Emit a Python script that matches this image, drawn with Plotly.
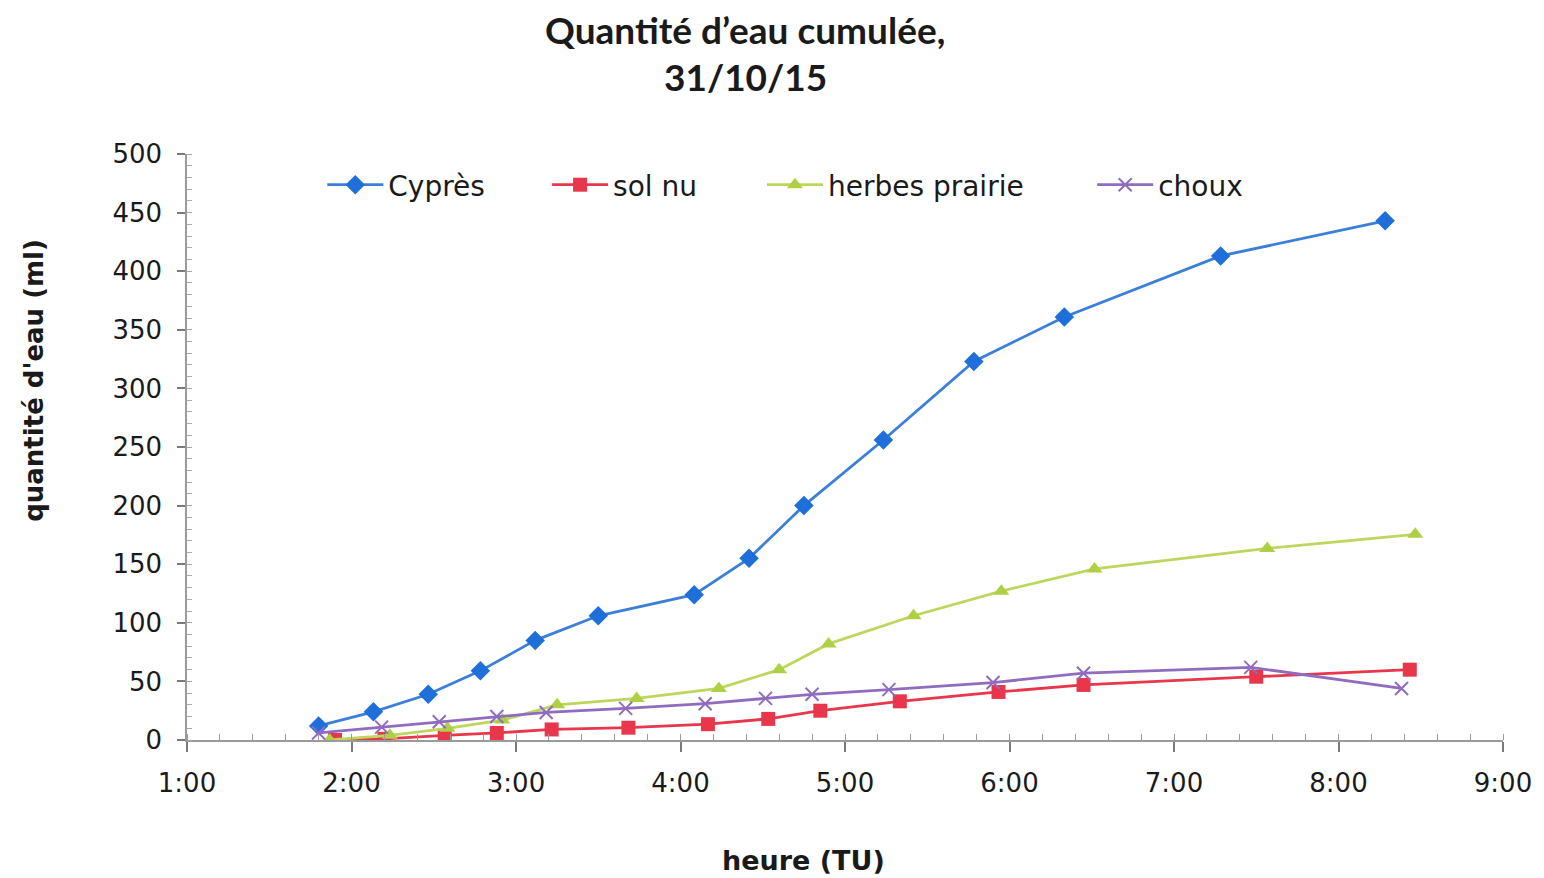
import plotly.graph_objects as go

# ---- data ----
cypres_t = ["1:48", "2:08", "2:28", "2:47", "3:07", "3:30", "4:05", "4:25", "4:45", "5:14", "5:47", "6:20", "7:17", "8:17"]
cypres_v = [12, 24, 39, 59, 85, 106, 124, 155, 200, 256, 323, 361, 413, 443]

solnu_t = ["1:54", "2:12", "2:34", "2:53", "3:13", "3:41", "4:10", "4:32", "4:51", "5:20", "5:56", "6:27", "7:30", "8:26"]
solnu_v = [0, 1, 4, 6, 9, 10.5, 13.5, 18, 25, 33, 41, 47, 54, 60]

herbes_t = ["1:52", "2:14", "2:35", "2:55", "3:15", "3:44", "4:14", "4:36", "4:54", "5:25", "5:57", "6:31", "7:34", "8:28"]
herbes_v = [0, 4, 10, 17, 30, 35.5, 44, 60, 82, 106, 127, 146, 163.5, 175.5]

choux_t = ["1:48", "2:11", "2:32", "2:53", "3:11", "3:40", "4:09", "4:31", "4:48", "5:16", "5:54", "6:27", "7:28", "8:23"]
choux_v = [6, 11, 15.5, 20, 23.5, 27, 31, 35.5, 39, 43, 49, 57, 62, 44]

tick_labels = ["1:00", "2:00", "3:00", "4:00", "5:00", "6:00", "7:00", "8:00", "9:00"]
y_ticks = [0, 50, 100, 150, 200, 250, 300, 350, 400, 450, 500]

title_lines = ["Quantité d’eau cumulée,", "31/10/15"]


def to_hours(ts):
    out = []
    for t in ts:
        h, m = t.split(":")
        out.append(int(h) + int(m) / 60.0)
    return out


tick_vals = to_hours(tick_labels)

W, H = 1544, 878
L, R, T, B = 187, 34, 154, 138
pw = W - L - R
ph = H - T - B


def px_x(px):
    return (px - L) / pw


def px_y(py):
    return (H - B - py) / ph


fig = go.Figure()

series = [
    ("Cyprès", cypres_t, cypres_v, "#3c7fd9", "#1e6fd9", "diamond", 15, "legend", 327),
    ("sol nu", solnu_t, solnu_v, "#e8364b", "#e8364b", "square", 14, "legend2", 553),
    ("herbes prairie", herbes_t, herbes_v, "#bdd75e", "#afd045", "triangle-up", 14, "legend3", 769),
    ("choux", choux_t, choux_v, "#8f6cc0", "#8f6cc0", "x-thin", 13, "legend4", 1101),
]

legend_layouts = {}
for name, ts, vs, lc, mc, sym, ms, lg, lx in series:
    marker = dict(symbol=sym, size=ms, color=mc)
    if sym == "x-thin":
        marker["line"] = dict(color=mc, width=2)
    fig.add_trace(go.Scatter(
        x=to_hours(ts), y=vs, name=name, mode="lines+markers",
        line=dict(color=lc, width=2.8), marker=marker, legend=lg,
    ))
    legend_layouts[lg] = dict(
        x=px_x(lx - 4), y=px_y(185), xanchor="left", yanchor="middle",
        orientation="h", bgcolor="rgba(0,0,0,0)", itemwidth=56,
        font=dict(family="DejaVu Sans", size=28, color="#1a1a1a"),
    )

fig.update_layout(
    width=W, height=H,
    margin=dict(l=L, r=R, t=T, b=B),
    paper_bgcolor="white", plot_bgcolor="white",
    showlegend=True,
    **legend_layouts,
)

tickfont = dict(family="DejaVu Sans", size=26, color="#1a1a1a")
fig.update_xaxes(
    range=[1, 9], tickvals=tick_vals, ticktext=tick_labels,
    showgrid=False, zeroline=False, showline=True, linecolor="#9a9a9a", linewidth=1.5,
    ticks="outside", ticklen=10, tickcolor="#7a7a7a", tickwidth=1.5,
    tickfont=tickfont, ticklabelstandoff=9,
    minor=dict(ticks="inside", dtick=0.2, ticklen=6, tickcolor="#9a9a9a", tickwidth=1, showgrid=False),
)
fig.update_yaxes(
    range=[0, 500], tickvals=y_ticks,
    showgrid=False, zeroline=False, showline=True, linecolor="#9a9a9a", linewidth=1.5,
    ticks="outside", ticklen=8, tickcolor="#7a7a7a", tickwidth=1.5,
    tickfont=tickfont, ticklabelstandoff=10,
    minor=dict(ticks="inside", dtick=10, ticklen=5, tickcolor="#aaaaaa", tickwidth=1, showgrid=False),
)

for line, cy in zip(title_lines, [29, 77]):
    fig.add_annotation(
        text=line, showarrow=False,
        xref="paper", yref="paper", x=px_x(748), y=px_y(cy), xanchor="center", yanchor="middle",
        font=dict(family="Lato", size=37, color="#1a1a1a", weight="bold"),
    )

fig.add_annotation(
    text="quantité d'eau (ml)", textangle=-90, showarrow=False,
    xref="paper", yref="paper", x=px_x(33), y=px_y(380), xanchor="center", yanchor="middle",
    font=dict(family="DejaVu Sans", size=26, color="#1a1a1a", weight="bold"),
)
fig.add_annotation(
    text="heure (TU)", showarrow=False,
    xref="paper", yref="paper", x=px_x(807), y=px_y(860), xanchor="center", yanchor="middle",
    font=dict(family="DejaVu Sans", size=27, color="#1a1a1a", weight="bold"),
)

fig.write_html("out.html")
